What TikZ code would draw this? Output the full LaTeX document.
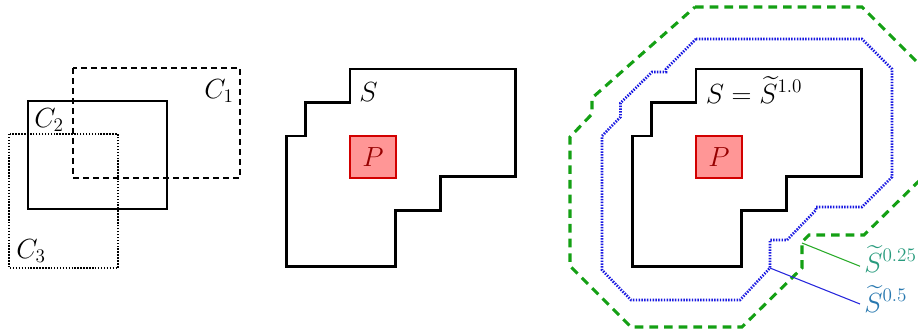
\documentclass[tikz,border=0pt]{standalone}
\usepackage{amsmath}
\definecolor{gdash}{RGB}{20,160,20}
\definecolor{bdot}{RGB}{25,25,225}
\definecolor{lteal}{RGB}{40,155,125}
\definecolor{lblue}{RGB}{40,120,175}
\definecolor{pfill}{RGB}{255,150,150}
\definecolor{pdraw}{RGB}{210,0,0}
\definecolor{ptext}{RGB}{150,0,0}
\definecolor{gline}{RGB}{40,170,40}
\definecolor{bline}{RGB}{40,40,220}
\tikzset{
  solidpoly/.style={line width=2.1pt, line join=miter},
  dashbox/.style={line width=1.6pt, dash pattern=on 4.5pt off 3pt},
  dotbox/.style={line width=1.6pt, dash pattern=on 1.1pt off 1.1pt},
  bluedot/.style={draw=bdot, line width=2pt, dash pattern=on 1.1pt off 1pt},
  greendash/.style={draw=gdash, line width=2.3pt, dash pattern=on 6.5pt off 4.5pt},
  lab/.style={inner sep=0pt, font=\fontsize{21.5}{26}\selectfont},
  pbox/.style={draw=pdraw, fill=pfill, line width=1.5pt},
}
\newcommand{\Spoly}{(350,69) -- (515.7,69) -- (515.7,176.7) -- (440.7,176.7) -- (440.7,210.7) -- (395.7,210.7) -- (395.7,266.7) -- (286.7,266.7) -- (286.7,136) -- (305.7,136) -- (305.7,102.3) -- (350,102.3) -- cycle}
\begin{document}
\begin{tikzpicture}[x=0.75pt,y=-0.75pt]
\useasboundingbox (0,0) rectangle (918,333);
\begin{scope}
\clip (0,0) rectangle (918,333);
% panel 1
\draw[solidpoly] (28,101) rectangle (167,209);
\draw[dashbox] (73,68) rectangle (240,178);
\draw[dotbox] (9,134) rectangle (118,268);
\node[lab, anchor=base west] (c1) at (204,98) {$C_1$};
\node[lab, anchor=base west] (c2) at (34,127.5) {$C_2$};
\node[lab, anchor=base west] (c3) at (16,258.5) {$C_3$};
% panel 2
\draw[solidpoly] \Spoly;
\draw[pbox] (350,136) rectangle (395.7,177.7);
\node[lab, text=ptext] (p2) at (372.9,157) {$P$};
\node[lab, anchor=base west] (s2) at (359,101) {$S$};
% panel 3
\draw[greendash] (695,7) -- (862,7) -- (923,68) -- (923,177) -- (864,235) -- (809,235) -- (802,242) -- (802,268) -- (742,327) -- (631,327) -- (570,266) -- (570,137) -- (592,114) -- (592,98) -- cycle;
\draw[bluedot] (696,39) -- (862,39) -- (892,69) -- (892,177) -- (862,207) -- (816,207) -- (816,210) -- (787,240) -- (770,240) -- (770,268) -- (740,300) -- (631,300) -- (602,270) -- (602,136) -- (620.5,117) -- (620.5,103) -- (652,72) -- (666,72) -- (666,69) -- cycle;
\begin{scope}[xshift=259.5pt]
\draw[solidpoly] \Spoly;
\draw[pbox] (350,136) rectangle (395.7,177.7);
\node[lab, text=ptext] (p3) at (372.9,157) {$P$};
\end{scope}
\node[lab, anchor=base west] (s3) at (705.5,103) {$S=\widetilde{S}^{1.0}$};
\coordinate (gv) at (802,243);
\coordinate (bv) at (770,268);
\node[lab, anchor=base west, text=lteal] (l25) at (864,272) {$\widetilde{S}^{0.25}$};
\node[lab, anchor=base west, text=lblue] (l5) at (864,312) {$\widetilde{S}^{0.5}$};
\draw[gline, line width=0.8pt] (gv) -- ([xshift=-3pt,yshift=4.3pt]l25.base west);
\draw[bline, line width=0.8pt] (bv) -- ([xshift=-3pt,yshift=6pt]l5.base west);
\end{scope}
\end{tikzpicture}
\end{document}
